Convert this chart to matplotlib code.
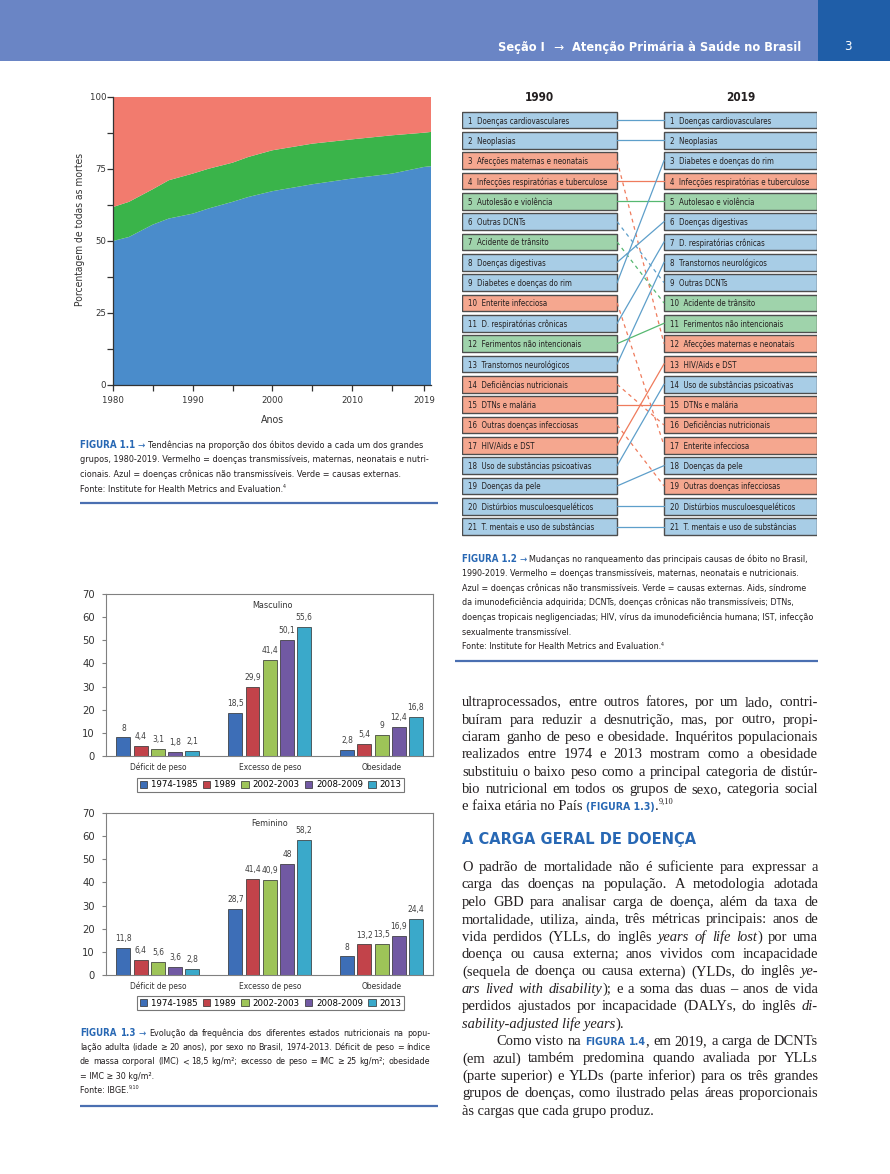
import os
import re
import numpy as np
import matplotlib
matplotlib.use("Agg")
import matplotlib.pyplot as plt
from matplotlib import font_manager
from matplotlib.font_manager import FontProperties
from matplotlib.patches import Rectangle, Patch

W, H = 890, 1174

installed = {f.name for f in font_manager.fontManager.ttflist}
SERIF = "Liberation Serif" if "Liberation Serif" in installed else "DejaVu Serif"
FALLBACK = "Roboto" if "Roboto" in installed else "Liberation Sans"


def find_font(patterns):
    files = [f.fname for f in font_manager.fontManager.ttflist]
    for pat in patterns:
        for fn in files:
            if re.search(pat, os.path.basename(fn), re.I):
                return fn
    return None


# a legenda original usa uma fonte condensada; procura a mais parecida instalada
COND_REG = find_font([r"^LiberationSansNarrow-Regular\.", r"^DejaVuSansCondensed\.ttf",
                      r"^NotoSans-Condensed\.", r"^RobotoCondensed-Regular\.",
                      r"^OpenSans.?Condensed.?(Regular|Medium)\.", r"^Roboto-Regular\."])
COND_BOLD = find_font([r"^LiberationSansNarrow-Bold\.", r"^DejaVuSansCondensed-Bold\.",
                       r"^NotoSans-CondensedBold\.", r"^RobotoCondensed-Bold\.",
                       r"^OpenSans.?Condensed.?Bold\.", r"^Roboto-Bold\."])


def cf(size, bold=False):
    path = COND_BOLD if bold else COND_REG
    if path:
        return FontProperties(fname=path, size=size)
    return FontProperties(family=FALLBACK, size=size, weight="bold" if bold else "normal")


INK = "#231f20"
LABEL_BLUE = "#2868b4"
RULE_BLUE = "#4a6fb1"

#------------------------------
# Figura 1.1 - areas empilhadas
#------------------------------
anos = [1980, 1982, 1985, 1987, 1990, 1992, 1995, 1997, 2000, 2005, 2010, 2015, 2019, 2020]
# limite superior da area azul (DCNT) e da area verde (DCNT + externas)
dcnt = [50.0, 51.4, 55.7, 57.8, 59.5, 61.3, 63.6, 65.3, 67.3, 69.7, 71.7, 73.4, 75.7, 76.0]
dcnt_e_externas = [61.8, 63.6, 68.0, 71.1, 73.4, 75.1, 77.2, 79.2, 81.5, 83.8, 85.3, 86.7, 87.6, 87.9]
anos_ticks = [1980, 1990, 2000, 2010, 2019]

#------------------------------
# Figura 1.2 - ranqueamento
#------------------------------
causas_1990 = ["Doenças cardiovasculares", "Neoplasias", "Afecções maternas e neonatais",
               "Infecções respiratórias e tuberculose", "Autolesão e violência", "Outras DCNTs",
               "Acidente de trânsito", "Doenças digestivas", "Diabetes e doenças do rim",
               "Enterite infecciosa", "D. respiratórias crônicas", "Ferimentos não intencionais",
               "Transtornos neurológicos", "Deficiências nutricionais", "DTNs e malária",
               "Outras doenças infecciosas", "HIV/Aids e DST", "Uso de substâncias psicoativas",
               "Doenças da pele", "Distúrbios musculoesqueléticos", "T. mentais e uso de substâncias"]
grupo_1990 = ["B", "B", "R", "R", "G", "B", "G", "B", "B", "R", "B",
              "G", "B", "R", "R", "R", "R", "B", "B", "B", "B"]
causas_2019 = ["Doenças cardiovasculares", "Neoplasias", "Diabetes e doenças do rim",
               "Infecções respiratórias e tuberculose", "Autolesao e violência", "Doenças digestivas",
               "D. respiratórias crônicas", "Transtornos neurológicos", "Outras DCNTs",
               "Acidente de trânsito", "Ferimentos não intencionais", "Afecções maternas e neonatais",
               "HIV/Aids e DST", "Uso de substâncias psicoativas", "DTNs e malária",
               "Deficiências nutricionais", "Enterite infecciosa", "Doenças da pele",
               "Outras doenças infecciosas", "Distúrbios musculoesqueléticos",
               "T. mentais e uso de substâncias"]
grupo_2019 = ["B", "B", "B", "R", "G", "B", "B", "B", "B", "G", "G",
              "R", "R", "B", "R", "R", "R", "B", "R", "B", "B"]
posicao_2019 = [1, 2, 12, 4, 5, 9, 10, 6, 3, 17, 7, 11, 8, 16, 15, 19, 13, 14, 18, 20, 21]

box_fill = {"B": "#a8cde6", "R": "#f5a78f", "G": "#9fd3ab"}
link_color = {"B": "#5e9fca", "R": "#ef7b5c", "G": "#56b870"}

#------------------------------
# Figura 1.3 - estado nutricional
#------------------------------
categorias = ["Déficit de peso", "Excesso de peso", "Obesidade"]
periodos = ["1974-1985", "1989", "2002-2003", "2008-2009", "2013"]
masc_deficit = [8, 4.4, 3.1, 1.8, 2.1]
masc_excesso = [18.5, 29.9, 41.4, 50.1, 55.6]
masc_obesidade = [2.8, 5.4, 9, 12.4, 16.8]
fem_deficit = [11.8, 6.4, 5.6, 3.6, 2.8]
fem_excesso = [28.7, 41.4, 40.9, 48, 58.2]
fem_obesidade = [8, 13.2, 13.5, 16.9, 24.4]
bar_colors = ["#3d6eb7", "#c2434a", "#9ec458", "#7159a3", "#3aa9ca"]

#------------------------------
# Textos
#------------------------------
cab_secao = "Seção I"
cab_titulo = "Atenção Primária à Saúde no Brasil"
cap11 = ["#FIGURA# #1.1# @→@ Tendências na proporção dos óbitos devido a cada um dos grandes",
         "grupos, 1980-2019. Vermelho = doenças transmissíveis, maternas, neonatais e nutri-",
         "cionais. Azul = doenças crônicas não transmissíveis. Verde = causas externas.",
         "Fonte: Institute for Health Metrics and Evaluation.^4^"]
cap12 = ["#FIGURA# #1.2# @→@ Mudanças no ranqueamento das principais causas de óbito no Brasil,",
         "1990-2019. Vermelho = doenças transmissíveis, maternas, neonatais e nutricionais.",
         "Azul = doenças crônicas não transmissíveis. Verde = causas externas. Aids, síndrome",
         "da imunodeficiência adquirida; DCNTs, doenças crônicas não transmissíveis; DTNs,",
         "doenças tropicais negligenciadas; HIV, vírus da imunodeficiência humana; IST, infecção",
         "sexualmente transmissível.",
         "Fonte: Institute for Health Metrics and Evaluation.^4^"]
cap13 = ["#FIGURA# #1.3# @→@ Evolução da frequência dos diferentes estados nutricionais na popu-",
         "lação adulta (idade ≥ 20 anos), por sexo no Brasil, 1974-2013. Déficit de peso = índice",
         "de massa corporal (IMC) < 18,5 kg/m²; excesso de peso = IMC ≥ 25 kg/m²; obesidade",
         "= IMC ≥ 30 kg/m².",
         "Fonte: IBGE.^9,10^"]
par1 = ["ultraprocessados, entre outros fatores, por um lado, contri-",
        "buíram para reduzir a desnutrição, mas, por outro, propi-",
        "ciaram ganho de peso e obesidade. Inquéritos populacionais",
        "realizados entre 1974 e 2013 mostram como a obesidade",
        "substituiu o baixo peso como a principal categoria de distúr-",
        "bio nutricional em todos os grupos de sexo, categoria social",
        "e faixa etária no País #(FIGURA# #1.3)#.^9,10^"]
titulo = "A CARGA GERAL DE DOENÇA"
par2 = ["O padrão de mortalidade não é suficiente para expressar a",
        "carga das doenças na população. A metodologia adotada",
        "pelo GBD para analisar carga de doença, além da taxa de",
        "mortalidade, utiliza, ainda, três métricas principais: anos de",
        "vida perdidos (YLLs, do inglês *years* *of* *life* *lost*) por uma",
        "doença ou causa externa; anos vividos com incapacidade",
        "(sequela de doença ou causa externa) (YLDs, do inglês *ye-*",
        "*ars* *lived* *with* *disability*); e a soma das duas – anos de vida",
        "perdidos ajustados por incapacidade (DALYs, do inglês *di-*",
        "*sability-adjusted* *life* *years*)."]
par3 = ["Como visto na #FIGURA# #1.4#, em 2019, a carga de DCNTs",
        "(em azul) também predomina quando avaliada por YLLs",
        "(parte superior) e YLDs (parte inferior) para os três grandes",
        "grupos de doenças, como ilustrado pelas áreas proporcionais",
        "às cargas que cada grupo produz."]

#------------------------------
# Pagina
#------------------------------
fig = plt.figure(figsize=(W / 100, H / 100), dpi=100)
page = fig.add_axes([0, 0, 1, 1])
page.set_xlim(0, W)
page.set_ylim(H, 0)
page.axis("off")
renderer = fig.canvas.get_renderer()


def px_rect(x0, y0, x1, y1):
    return [x0 / W, 1 - y1 / H, (x1 - x0) / W, (y1 - y0) / H]


def width_px(s, prop):
    return renderer.get_text_width_height_descent(s, prop, ismath=False)[0]


TOKEN = re.compile(r"\*([^*]+)\*|#([^#]+)#|\^([^^]+)\^|@([^@]+)@|([^*#^@]+)")
KINDS = ["it", "label", "sup", "blue", "rm"]


def parse_word(word):
    segs = []
    for m in TOKEN.finditer(word):
        for kind, g in zip(KINDS, m.groups()):
            if g is not None:
                segs.append((g, kind))
    return segs


def make_styles(serif, size, label_ratio):
    px = size * 100 / 72
    if serif:
        rm = FontProperties(family=SERIF, size=size)
        it = FontProperties(family=SERIF, size=size, style="italic")
        sup = FontProperties(family=SERIF, size=size * 0.58)
    else:
        rm, it, sup = cf(size), cf(size), cf(size * 0.6)
    return {
        "rm": (rm, INK, 0),
        "it": (it, INK, 0),
        "label": (cf(size * label_ratio, bold=True), LABEL_BLUE, 0),
        "blue": (FontProperties(family="DejaVu Sans", size=size * label_ratio * 0.9),
                 LABEL_BLUE, 0),
        "sup": (sup, INK, px * 0.42),
    }


def space_px(st):
    prop = st["rm"][0]
    return (width_px("a" + " " * 10 + "a", prop) - width_px("aa", prop)) / 10


def measure(line, st):
    words = [parse_word(w) for w in line.split(" ") if w]
    widths = [sum(width_px(t, st[k][0]) for t, k in segs) for segs in words]
    return words, widths, space_px(st)


def runs_of(line):
    # agrupa palavras seguidas do mesmo estilo num unico texto
    runs = []
    for w in [w for w in line.split(" ") if w]:
        for j, (t, k) in enumerate(parse_word(w)):
            spaced = j == 0
            if runs and runs[-1][1] == k and spaced:
                runs[-1][0] += " " + t
            elif runs and runs[-1][1] == k:
                runs[-1][0] += t
            else:
                runs.append([t, k, spaced and bool(runs)])
    return runs


def natural_width(line, st):
    sp = space_px(st)
    return sum(width_px(t, st[k][0]) + (sp if gap else 0) for t, k, gap in runs_of(line))


def draw_line(x0, y, line, st, width=None):
    if width is None:
        sp = space_px(st)
        x = x0
        for t, k, gap in runs_of(line):
            prop, color, rise = st[k]
            if gap:
                x += sp
            page.text(x, y - rise, t, fontproperties=prop, color=color,
                      ha="left", va="baseline")
            x += width_px(t, prop)
        return
    words, widths, space = measure(line, st)
    gap = (width - sum(widths)) / max(len(words) - 1, 1)
    x = x0
    for segs, w in zip(words, widths):
        xx = x
        for t, k in segs:
            prop, color, rise = st[k]
            page.text(xx, y - rise, t, fontproperties=prop, color=color,
                      ha="left", va="baseline")
            xx += width_px(t, prop)
        x += w + gap


def paragraph(lines, x0, y0, dy, width, serif, size, label_ratio=1.0, n_just=0, indent=0):
    st = make_styles(serif, size, label_ratio)
    base_shift = 0.3 * size * 100 / 72
    for i, line in enumerate(lines):
        ind = indent if i == 0 else 0
        draw_line(x0 + ind, y0 + i * dy + base_shift, line, st,
                  (width - ind) if i < n_just else None)


def fit_size(lines, serif, width, label_ratio=1.0, base=10.0):
    st = make_styles(serif, base, label_ratio)
    widest = max(natural_width(l, st) for l in lines)
    return base * width / widest


# cabecalho
page.add_patch(Rectangle((0, 0), 818, 61, color="#6a85c5", lw=0))
page.add_patch(Rectangle((818, 0), 72, 61, color="#1f5ea8", lw=0))
cab_full = cab_secao + " → " + cab_titulo
hs = 10 * 292 / width_px(cab_full, cf(10, bold=True))
hb = 46 + 0.36 * hs * 100 / 72
w_tit = width_px(cab_titulo, cf(hs, bold=True))
page.text(801, hb, cab_titulo, fontproperties=cf(hs, bold=True), color="white",
          ha="right", va="baseline")
arrow_fp = FontProperties(family="DejaVu Sans", size=hs * 0.95)
x_arrow = 801 - w_tit - 0.9 * hs
page.text(x_arrow, hb, "→", fontproperties=arrow_fp, color="white", ha="right", va="baseline")
page.text(x_arrow - width_px("→", arrow_fp) - 0.9 * hs, hb, cab_secao,
          fontproperties=cf(hs, bold=True), color="white", ha="right", va="baseline")
page.text(848, 46, "3", fontproperties=cf(9.5), color="white", ha="center", va="center")

#-----------------
# Figura 1.1
#-----------------
ax1 = fig.add_axes(px_rect(113, 97, 431, 385))
externas = np.subtract(dcnt_e_externas, dcnt)
transmissiveis = np.subtract(100, dcnt_e_externas)
ax1.stackplot(anos, dcnt, externas, transmissiveis,
              colors=["#4a8ccb", "#3ab44a", "#f27b6e"], linewidth=0)
ax1.set_xlim(1980, 2019.9)
ax1.set_ylim(0, 100)
ax1.set_xticks(anos_ticks)
ax1.set_xticks([1985, 1995, 2005, 2015], minor=True)
ax1.set_yticks([0, 25, 50, 75, 100])
ax1.set_yticks([12.5, 37.5, 62.5, 87.5], minor=True)
for s in ["top", "right"]:
    ax1.spines[s].set_visible(False)
for s in ["left", "bottom"]:
    ax1.spines[s].set_color("#333333")
    ax1.spines[s].set_linewidth(0.9)
ax1.tick_params(which="both", direction="out", length=4, width=0.9, color="#333333",
                labelcolor="#333333")
ax1.tick_params(axis="x", pad=4)
ax1.tick_params(axis="y", pad=1)
for lab in ax1.get_xticklabels() + ax1.get_yticklabels():
    lab.set_fontproperties(cf(6.8))
ax1.set_ylabel("Porcentagem de todas as mortes", fontproperties=cf(7.4), color="#333333")
ax1.yaxis.set_label_coords(-0.088, 0.54)
ax1.set_xlabel("Anos", fontproperties=cf(7.6), color="#333333")
ax1.xaxis.set_label_coords(0.5, -0.104)

s11 = fit_size(cap11[1:2], False, 348)
paragraph(cap11, 80, 445, 14.7, 352, False, s11, label_ratio=1.08)
page.hlines(503, 80, 438, color=RULE_BLUE, lw=1.6)

#-----------------
# Figura 1.2
#-----------------
ax2 = fig.add_axes(px_rect(462, 87.5, 817, 538.8))
ax2.set_xlim(0, 1)
ax2.set_ylim(21.6, -0.6)
ax2.axis("off")
left_w, right_x = 0.437, 0.569
box_fs = 10 * 141 / width_px("4  Infecções respiratórias e tuberculose", cf(10))
for i in range(21):
    r = i + 1
    ax2.add_patch(Rectangle((0, r - 0.41), left_w, 0.82, facecolor=box_fill[grupo_1990[i]],
                            edgecolor="#4d4d4d", lw=1.0))
    ax2.add_patch(Rectangle((right_x, r - 0.41), 1 - right_x, 0.82,
                            facecolor=box_fill[grupo_2019[i]], edgecolor="#4d4d4d", lw=1.0))
    ax2.text(0.017, r, f"{r}  {causas_1990[i]}", fontproperties=cf(box_fs), color=INK,
             ha="left", va="center_baseline")
    ax2.text(right_x + 0.017, r, f"{r}  {causas_2019[i]}", fontproperties=cf(box_fs), color=INK,
             ha="left", va="center_baseline")
    r2 = posicao_2019[i]
    ls = (0, (3, 3)) if r2 > r else "-"
    ax2.plot([left_w, right_x], [r, r2], color=link_color[grupo_1990[i]], lw=0.9, ls=ls)
ax2.text(left_w / 2, -0.13, "1990", fontproperties=cf(8.5, bold=True), color=INK,
         ha="center", va="center")
ax2.text((1 + right_x) / 2, -0.13, "2019", fontproperties=cf(8.5, bold=True), color=INK,
         ha="center", va="center")

s12 = fit_size(cap12[4:5], False, 352)
paragraph(cap12, 462, 559, 14.6, 356, False, s12, label_ratio=1.08)
page.hlines(661, 455, 818, color=RULE_BLUE, lw=1.6)

#-----------------
# Figura 1.3
#-----------------


def fmt(v):
    return f"{v:g}".replace(".", ",")


def bar_panel(rect, series, title, title_xy, legend_y):
    ax = fig.add_axes(px_rect(*rect))
    step, bw = 0.154, 0.125
    for i, (periodo, color) in enumerate(zip(periodos, bar_colors)):
        vals = [s[i] for s in series]
        xs = np.arange(len(categorias)) + (i - 2) * step
        ax.bar(xs, vals, width=bw, color=color, edgecolor="#2b2b2b", linewidth=0.5)
        for x, v in zip(xs, vals):
            ax.annotate(fmt(v), (x, v), xytext=(0, 3.5), textcoords="offset points",
                        ha="center", va="bottom", fontproperties=cf(6), color="#404040")
    ax.set_xlim(-0.464, 2.46)
    ax.set_ylim(0, 70)
    ax.set_yticks(range(0, 71, 10))
    ax.set_xticks(range(len(categorias)))
    ax.set_xticklabels(categorias)
    for s in ax.spines.values():
        s.set_color("#808080")
        s.set_linewidth(0.8)
    ax.tick_params(axis="y", length=3, width=0.8, color="#808080", pad=5, labelcolor="#333333")
    ax.tick_params(axis="x", length=0, pad=5, labelcolor="#333333")
    for lab in ax.get_yticklabels():
        lab.set_fontproperties(cf(8))
    for lab in ax.get_xticklabels():
        lab.set_fontproperties(cf(6))
    ax.text(title_xy[0], title_xy[1], title, transform=ax.transAxes, fontproperties=cf(6.5),
            color="#333333", ha="center", va="center")
    handles = [Patch(facecolor=c, edgecolor="#2b2b2b", linewidth=0.5) for c in bar_colors]
    leg = ax.legend(handles, periodos, loc="center", bbox_to_anchor=(0.503, legend_y),
                    ncol=5, prop=cf(6.8), frameon=True, fancybox=False,
                    edgecolor="#555555", handlelength=0.8, handleheight=0.8,
                    handletextpad=0.4, columnspacing=0.55, borderpad=0.3, borderaxespad=0)
    leg.get_frame().set_linewidth(0.8)
    return ax


bar_panel((106, 594, 433, 756), [masc_deficit, masc_excesso, masc_obesidade],
          "Masculino", (0.508, 0.926), -0.179)
bar_panel((106, 813, 433, 975), [fem_deficit, fem_excesso, fem_obesidade],
          "Feminino", (0.50, 0.938), -0.173)

s13 = fit_size(cap13[0:3], False, 350)
paragraph(cap13, 80, 1033, 14.3, 350, False, s13, label_ratio=1.08, n_just=3)
page.hlines(1106, 80, 438, color=RULE_BLUE, lw=1.6)

#-----------------
# Texto corrido
#-----------------
just_lines = par1[:-1] + par2[:-1] + par3[1:-1]
body = min(11.0, fit_size(just_lines, True, 356 * 0.985))
paragraph(par1, 462, 702, 17.3, 356, True, body, label_ratio=0.72, n_just=len(par1) - 1)

ts = 10 * 232 / width_px(titulo, cf(10, bold=True))
page.text(462, 838 + 0.36 * ts * 100 / 72, titulo, fontproperties=cf(ts, bold=True),
          color=LABEL_BLUE, ha="left", va="baseline")

paragraph(par2, 462, 866.7, 17.4, 356, True, body, label_ratio=0.72, n_just=len(par2) - 1)
paragraph(par3, 462, 866.7 + 17.4 * len(par2), 17.4, 356, True, body, label_ratio=0.72,
          n_just=len(par3) - 1, indent=34)

fig.savefig("out.png", dpi=100)
